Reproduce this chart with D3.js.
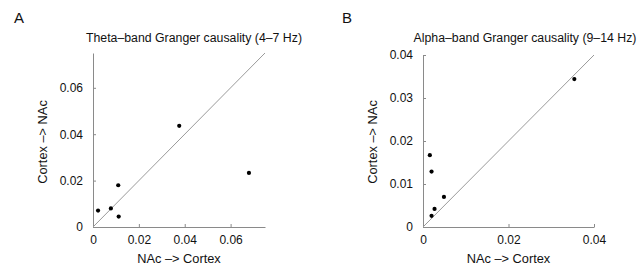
<!DOCTYPE html>
<html lang="en">
    <head>
        <meta charset="utf-8">
        <title>Granger causality</title>
        <script type="text/javascript" src="https://cdn.jsdelivr.net/npm/d3@7"></script>
        <style type="text/css">
          body { margin: 0; background: #fff; }
          text { font-family: "Liberation Sans", Arial, sans-serif; fill: #111; }
          .axis path, .axis line { stroke: #8a8a8a; stroke-width: 1; }
          .axis text { font-size: 12px; fill: #111; font-family: "Liberation Sans", Arial, sans-serif; }
        </style>
    </head>
    <body>
        <script type="text/javascript">

          var w = 641;
          var h = 269;

          // panel A: theta band
          var thetaX = [0.0022, 0.0078, 0.011, 0.0112, 0.0376, 0.068];
          var thetaY = [0.0071, 0.008, 0.018, 0.0045, 0.0436, 0.0233];
          var thetaTicks = [0, 0.02, 0.04, 0.06];

          // panel B: alpha band
          var alphaX = [0.0354, 0.0016, 0.002, 0.0049, 0.0027, 0.002];
          var alphaY = [0.0344, 0.0167, 0.0129, 0.007, 0.0042, 0.0026];
          var alphaXTicks = [0, 0.02, 0.04];
          var alphaYTicks = [0, 0.01, 0.02, 0.03, 0.04];

          var svg = d3.select("body")
                      .append("svg")
                      .attr("width", w)
                      .attr("height", h);

          var fmt = d => d === 0 ? "0" : d3.format(".2f")(d);

          function panel(opt) {
            var xScale = d3.scaleLinear().domain([0, opt.max]).range([opt.left, opt.right]);
            var yScale = d3.scaleLinear().domain([0, opt.max]).range([opt.bottom, opt.top]);

            svg.append("g")
               .attr("class", "axis")
               .attr("transform", "translate(0," + opt.bottom + ")")
               .call(d3.axisBottom(xScale).tickValues(opt.xTicks).tickFormat(fmt)
                       .tickSize(-3).tickSizeOuter(0).tickPadding(8));

            svg.append("g")
               .attr("class", "axis")
               .attr("transform", "translate(" + opt.left + ",0)")
               .call(d3.axisLeft(yScale).tickValues(opt.yTicks).tickFormat(fmt)
                       .tickSize(-3).tickSizeOuter(0).tickPadding(10));

            svg.selectAll(".domain").attr("stroke", "#8a8a8a");

            // identity line
            svg.append("line")
               .attr("x1", xScale(0)).attr("y1", yScale(0))
               .attr("x2", xScale(opt.max)).attr("y2", yScale(opt.max))
               .attr("stroke", "#9a9a9a")
               .attr("stroke-width", 1);

            svg.append("g")
               .selectAll("circle")
               .data(opt.xs)
               .enter()
               .append("circle")
               .attr("cx", d => xScale(d))
               .attr("cy", (d, i) => yScale(opt.ys[i]))
               .attr("r", 2.1)
               .attr("fill", "#000");

            svg.append("text")
               .attr("x", opt.titleX)
               .attr("y", 42)
               .attr("text-anchor", "middle")
               .style("font-size", "12.3px")
               .text(opt.title);

            svg.append("text")
               .attr("x", opt.letterX)
               .attr("y", 23)
               .style("font-size", "15px")
               .text(opt.letter);

            svg.append("text")
               .attr("x", (opt.left + opt.right) / 2)
               .attr("y", 263)
               .attr("text-anchor", "middle")
               .style("font-size", "12.8px")
               .text("NAc –> Cortex");

            svg.append("text")
               .attr("transform", "translate(" + opt.yLabelX + ",142) rotate(-90)")
               .attr("text-anchor", "middle")
               .style("font-size", "12.8px")
               .text("Cortex –> NAc");
          }

          panel({
            xs: thetaX, ys: thetaY, xTicks: thetaTicks, yTicks: thetaTicks,
            max: 0.075, left: 93, right: 265, top: 53, bottom: 227,
            title: "Theta–band Granger causality (4–7 Hz)", titleX: 194,
            letter: "A", letterX: 14, yLabelX: 47
          });

          panel({
            xs: alphaX, ys: alphaY, xTicks: alphaXTicks, yTicks: alphaYTicks,
            max: 0.04, left: 423, right: 594, top: 55, bottom: 227,
            title: "Alpha–band Granger causality (9–14 Hz)", titleX: 525,
            letter: "B", letterX: 342, yLabelX: 377
          });

        </script>
    </body>
</html>
